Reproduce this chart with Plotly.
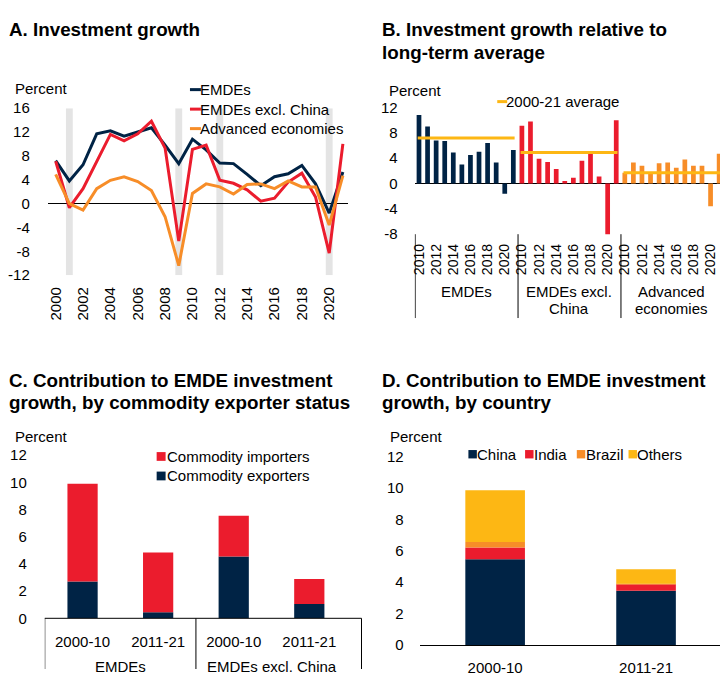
import plotly.graph_objects as go

FONT = "Liberation Sans, Arial, Helvetica, sans-serif"
NAVY = "#002345"
RED = "#EB1C2D"
ORANGE = "#F78D28"
YELLOW = "#FDB714"
GREY = "#E4E4E4"

W, H = 720, 677

# ---- Panel A: investment growth, 2000-21 (percent)
years = list(range(2000, 2022))
emdes = [7.2, 3.8, 6.5, 11.7, 12.2, 11.3, 12.0, 12.7, 9.8, 6.7, 10.8,
         9.0, 6.8, 6.7, 4.9, 3.0, 4.5, 5.0, 6.4, 3.3, -1.6, 5.3]
emdes_ex_china = [7.1, -0.7, 2.5, 7.1, 11.6, 10.5, 11.7, 13.8, 9.3, -6.3, 9.1,
                  9.8, 3.9, 3.4, 2.3, 0.4, 0.9, 3.6, 5.1, 1.1, -8.3, 10.0]
advanced = [4.9, 0.0, -1.1, 2.5, 3.9, 4.5, 3.7, 2.2, -2.2, -10.4, 1.7,
            3.3, 2.8, 1.6, 3.2, 3.3, 2.5, 3.8, 2.8, 2.8, -3.6, 4.7]
recession_years = [2001, 2009, 2012, 2020]
a_names = ["EMDEs", "EMDEs excl. China", "Advanced economies"]
a_ticks = list(range(-12, 17, 4))

# ---- Panel B: growth 2010-21 against the 2000-21 average
b_first_year = 2010
b_groups = [["EMDEs"], ["EMDEs excl.", "China"], ["Advanced", "economies"]]
b_average = [7.2, 4.9, 1.7]
b_ticks = list(range(-8, 13, 4))

# ---- Panel C: contribution by commodity exporter status (percentage points)
c_periods = ["2000-10", "2011-21", "2000-10", "2011-21"]
c_groups = ["EMDEs", "EMDEs excl. China"]
c_exporters = [2.7, 0.45, 4.55, 1.05]
c_importers = [7.2, 4.4, 3.0, 1.85]

# ---- Panel D: contribution by country (percentage points)
d_periods = ["2000-10", "2011-21"]
d_china = [5.45, 3.45]
d_india = [0.75, 0.42]
d_brazil = [0.35, 0.03]
d_others = [3.3, 0.92]
cd_ticks = list(range(0, 13, 2))


def fx(px):
    return px / W


def fy(py):
    return 1 - py / H


def txt(x, y, text, size=15, bold=False, xanchor="left", yanchor="middle",
        xref="paper", yref="paper"):
    if bold:
        text = "<b>" + text + "</b>"
    if xanchor == "left" and xref == "paper":
        x -= 4 / W  # annotation box padding
    return dict(x=x, y=y, xref=xref, yref=yref, text=text, showarrow=False,
                xanchor=xanchor, yanchor=yanchor,
                font=dict(family=FONT, size=size, color="black"))


fig = go.Figure()
shapes = []
annotations = []

# ---------------- Panel A
series_a = [(emdes, NAVY), (emdes_ex_china, RED), (advanced, ORANGE)]
for (vals, color), name in zip(series_a, a_names):
    fig.add_trace(go.Scatter(x=years, y=vals, mode="lines", name=name,
                             line=dict(color=color, width=3),
                             xaxis="x", yaxis="y", showlegend=False))
for yr in recession_years:
    shapes.append(dict(type="rect", xref="x", yref="y", x0=yr - 0.25, x1=yr + 0.25,
                       y0=-12, y1=16, fillcolor=GREY, line=dict(width=0), layer="below"))
for i, ((vals, color), name) in enumerate(zip(series_a, a_names)):
    yy = fy(82.7 + 20 * i)
    shapes.append(dict(type="line", xref="paper", yref="paper", x0=fx(187), x1=fx(198),
                       y0=yy, y1=yy, line=dict(color=color, width=3)))
    annotations.append(txt(fx(199), yy, name))

# ---------------- Panel B
n_b = len(years) - years.index(b_first_year)
b_series = [(emdes, NAVY), (emdes_ex_china, RED), (advanced, ORANGE)]
b_tickvals, b_ticktext = [], []
for g, ((vals, color), avg) in enumerate(zip(b_series, b_average)):
    start = years.index(b_first_year)
    xs = [g * n_b + i for i in range(n_b)]
    fig.add_trace(go.Bar(x=xs, y=vals[start:], marker=dict(color=color, line=dict(width=0)),
                         width=0.55, xaxis="x2", yaxis="y2", showlegend=False))
    fig.add_trace(go.Scatter(x=[xs[0] - 0.15, xs[-1] + 0.15], y=[avg, avg], mode="lines",
                             line=dict(color=YELLOW, width=3), xaxis="x2", yaxis="y2",
                             showlegend=False))
    for i in range(0, n_b, 2):
        b_tickvals.append(g * n_b + i)
        b_ticktext.append(str(b_first_year + i))
    # group divider and group label
    shapes.append(dict(type="line", xref="x2", yref="paper", x0=g * n_b - 0.45, x1=g * n_b - 0.45,
                       y0=fy(317), y1=fy(231), line=dict(color="black", width=1)))
    for j, line in enumerate(b_groups[g]):
        annotations.append(txt(g * n_b + (n_b - 1) / 2, fy(290 + 17.5 * j), line,
                               xanchor="center", xref="x2"))
shapes.append(dict(type="line", xref="paper", yref="paper", x0=fx(496), x1=fx(506),
                   y0=fy(95), y1=fy(95), line=dict(color=YELLOW, width=3)))
annotations.append(txt(fx(507), fy(95), "2000-21 average"))

# ---------------- Panel C
c_x = list(range(len(c_periods)))
fig.add_trace(go.Bar(x=c_x, y=c_exporters, name="Commodity exporters", width=0.4,
                     marker=dict(color=NAVY, line=dict(width=0)),
                     xaxis="x3", yaxis="y3", showlegend=False))
fig.add_trace(go.Bar(x=c_x, y=c_importers, name="Commodity importers", width=0.4,
                     marker=dict(color=RED, line=dict(width=0)),
                     xaxis="x3", yaxis="y3", showlegend=False))
c_bottom = fy(625)
shapes.append(dict(type="line", xref="paper", yref="paper", x0=fx(41), x1=fx(359.5),
                   y0=c_bottom, y1=c_bottom, line=dict(color="black", width=1)))
for xv in [-0.5, 1.5]:
    shapes.append(dict(type="line", xref="x3", yref="paper", x0=xv, x1=xv,
                       y0=0, y1=c_bottom, line=dict(color="black", width=1)))
shapes.append(dict(type="line", xref="paper", yref="paper", x0=fx(359.5), x1=fx(359.5),
                   y0=0, y1=c_bottom, line=dict(color="black", width=1)))
for k, grp in enumerate(c_groups):
    annotations.append(txt(2 * k + 0.5, fy(674), grp, xanchor="center", xref="x3"))
for i, (name, color) in enumerate([("Commodity importers", RED), ("Commodity exporters", NAVY)]):
    yc = 459 + 20 * i
    shapes.append(dict(type="rect", xref="paper", yref="paper", x0=fx(153.5), x1=fx(162.5),
                       y0=fy(yc + 4.5), y1=fy(yc - 4.5), fillcolor=color, line=dict(width=0)))
    annotations.append(txt(fx(166), fy(yc), name))

# ---------------- Panel D
d_x = list(range(len(d_periods)))
d_series = [("China", d_china, NAVY), ("India", d_india, RED),
            ("Brazil", d_brazil, ORANGE), ("Others", d_others, YELLOW)]
for name, vals, color in d_series:
    fig.add_trace(go.Bar(x=d_x, y=vals, name=name, width=0.395,
                         marker=dict(color=color, line=dict(width=0)),
                         xaxis="x4", yaxis="y4", showlegend=False))
for (name, vals, color), sx in zip(d_series, [467, 524, 576, 628]):
    yc = 456.7
    shapes.append(dict(type="rect", xref="paper", yref="paper", x0=fx(sx), x1=fx(sx + 8.5),
                       y0=fy(yc + 4.3), y1=fy(yc - 4.3), fillcolor=color, line=dict(width=0)))
    annotations.append(txt(fx(sx + 11), fy(yc), name))

# ---------------- Titles and unit labels
TS = 18.8
annotations += [
    txt(fx(7), fy(21), "A. Investment growth", size=TS, bold=True),
    txt(fx(382), fy(21), "B. Investment growth relative to", size=TS, bold=True),
    txt(fx(382), fy(45), "long-term average", size=TS, bold=True),
    txt(fx(7), fy(381), "C. Contribution to EMDE investment", size=TS, bold=True),
    txt(fx(7), fy(404), "growth, by commodity exporter status", size=TS, bold=True),
    txt(fx(382), fy(381), "D. Contribution to EMDE investment", size=TS, bold=True),
    txt(fx(382), fy(404), "growth, by country", size=TS, bold=True),
    txt(fx(13), fy(82), "Percent"),
    txt(fx(389), fy(84), "Percent"),
    txt(fx(13), fy(439), "Percent"),
    txt(fx(390), fy(439), "Percent"),
]

tickfont = dict(family=FONT, size=15, color="black")
base_axis = dict(showgrid=False, zeroline=False, showline=False, ticks="",
                 tickfont=tickfont, fixedrange=True)

fig.update_layout(
    width=W, height=H,
    margin=dict(l=0, r=0, t=0, b=0),
    paper_bgcolor="white", plot_bgcolor="white",
    barmode="relative",
    showlegend=False,
    shapes=shapes,
    annotations=annotations,
    xaxis=dict(base_axis, domain=[fx(44), fx(346)], range=[1999.42, 2021.38],
               tickmode="array", tickvals=years[::2], tickangle=-90,
               ticklabelstandoff=8, anchor="y"),
    yaxis=dict(base_axis, domain=[fy(273), fy(101.7)], range=[-12, 16],
               tickmode="array", tickvals=a_ticks, ticktext=[str(v) for v in a_ticks],
               zeroline=True, zerolinecolor="black", zerolinewidth=1,
               ticklabelstandoff=17, anchor="x"),
    xaxis2=dict(base_axis, domain=[fx(413), 1], range=[-0.5, 35.1],
                tickmode="array", tickvals=b_tickvals, ticktext=b_ticktext,
                tickangle=-90, tickfont=dict(tickfont, size=14),
                ticklabelstandoff=6, anchor="y2"),
    yaxis2=dict(base_axis, domain=[fy(231), fy(101)], range=[-8, 12],
                tickmode="array", tickvals=b_ticks, ticktext=[str(v) for v in b_ticks],
                zeroline=True, zerolinecolor="black", zerolinewidth=1,
                ticklabelstandoff=16, anchor="x2"),
    xaxis3=dict(base_axis, domain=[fx(41), fx(345)], range=[-0.5, 3.5],
                tickmode="array", tickvals=c_x, ticktext=c_periods,
                ticklabelstandoff=13, anchor="y3"),
    yaxis3=dict(base_axis, domain=[fy(625), fy(457.7)], range=[0, 12],
                tickmode="array", tickvals=cd_ticks, ticktext=[str(v) for v in cd_ticks],
                ticklabelstandoff=17, anchor="x3"),
    xaxis4=dict(base_axis, domain=[fx(418), 1], range=[-0.5, 1.49],
                tickmode="array", tickvals=d_x, ticktext=d_periods,
                showline=True, linecolor="black", linewidth=1,
                ticklabelstandoff=9, anchor="y4"),
    yaxis4=dict(base_axis, domain=[fy(652.3), fy(459)], range=[0, 12],
                tickmode="array", tickvals=cd_ticks, ticktext=[str(v) for v in cd_ticks],
                ticklabelstandoff=15, anchor="x4"),
)

fig.write_html("out.html")
